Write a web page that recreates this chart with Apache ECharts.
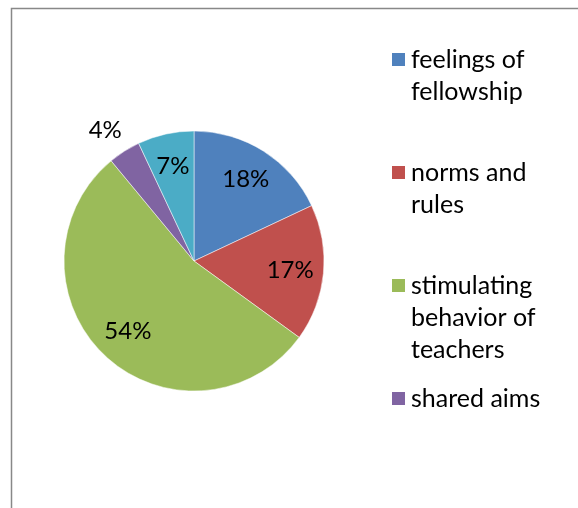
<!DOCTYPE html>
<html><head><meta charset="utf-8">
<script src="https://cdn.jsdelivr.net/npm/echarts@6/dist/echarts.min.js"></script>
<style>html,body{margin:0;padding:0;background:#fff}#c{width:578px;height:508px}</style>
</head><body><div id="c"></div>
<script>
// ---- data ----
const categories = ['feelings of fellowship', 'norms and rules', 'stimulating behavior of teachers', 'shared aims', 'other'];
const legendLabels = ['feelings of\nfellowship', 'norms and\nrules', 'stimulating\nbehavior of\nteachers', 'shared aims'];
const values = [18, 17, 54, 4, 7];
const colors = ['#4F81BD', '#C0504D', '#9BBB59', '#8064A2', '#4BACC6'];

// ---- layout / style ----
const FONT = 'Lato';
const FS = 25;
const LABEL_FS = 24;
const LH = 32;
const center = [194, 261];
const R = 130;
const legendCenters = [59.5, 172.5, 285.5, 398.5];

const pieData = categories.map((c, i) => ({ name: c, value: values[i], itemStyle: { color: colors[i] } }));

const labelData = categories.map((c, i) => {
  const d = { name: c, value: values[i] };
  if (i === 3) d.label = { offset: [-37, -49] };
  return d;
});

const legends = legendLabels.map((lab, i) => {
  const n = lab.split('\n').length;
  // prepend empty lines so that the first text line sits level with the icon
  const txt = '\n'.repeat(n - 1) + lab;
  return {
    data: [categories[i]],
    left: 390,
    top: legendCenters[i] - (LH / 2) * (2 * n - 1),
    padding: 0,
    orient: 'vertical',
    icon: 'rect',
    itemWidth: 15,
    itemHeight: 15,
    selectedMode: false,
    formatter: () => txt,
    textStyle: { fontFamily: FONT, fontSize: FS, lineHeight: LH, color: '#000' }
  };
});

const chart = echarts.init(document.getElementById('c'), null, { renderer: 'canvas' });
chart.setOption({
  animation: false,
  backgroundColor: '#fff',
  color: colors,
  graphic: [{
    type: 'rect', z: -10, silent: true,
    shape: { x: 11.5, y: 8.5, width: 800, height: 800 },
    style: { fill: 'none', stroke: '#888', lineWidth: 1.5 }
  }],
  legend: legends,
  series: [
    {
      type: 'pie', center: center, radius: [0, R], startAngle: 90, clockwise: true,
      silent: true, label: { show: false }, labelLine: { show: false },
      itemStyle: { borderColor: '#fff', borderWidth: 0.5 },
      data: pieData
    },
    {
      type: 'pie', center: center, radius: [R * 0.44, R], startAngle: 90, clockwise: true,
      silent: true, legendHoverLink: false,
      itemStyle: { color: 'rgba(0,0,0,0)', borderWidth: 0 },
      label: { show: true, position: 'inside', formatter: '{c}%', fontFamily: FONT, fontSize: LABEL_FS, color: '#000' },
      labelLine: { show: false },
      emphasis: { disabled: true },
      data: labelData
    }
  ]
});
</script></body></html>
